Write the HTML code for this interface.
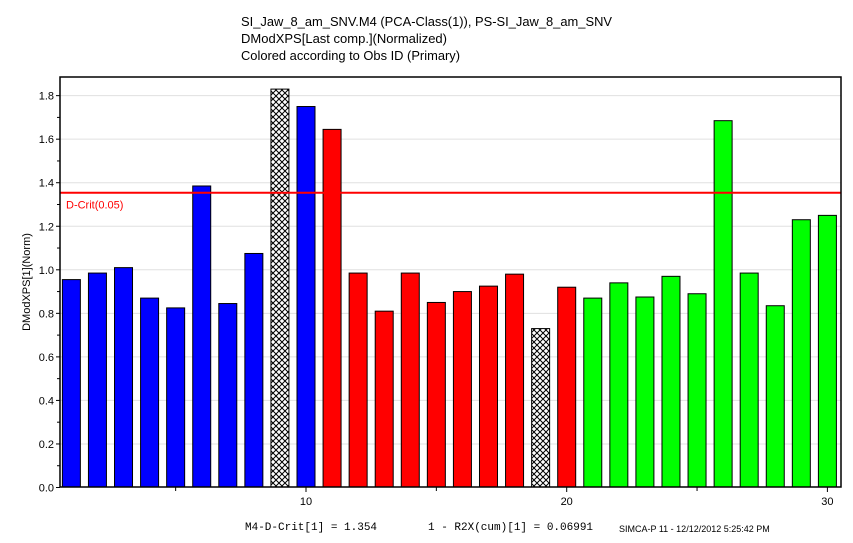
<!DOCTYPE html>
<html><head><meta charset="utf-8"><style>body{margin:0;background:#fff}svg{display:block;font-family:"Liberation Sans",sans-serif}</style></head>
<body>
<svg id="c" width="853" height="543" viewBox="0 0 853 543" xmlns="http://www.w3.org/2000/svg">
<defs><pattern id="hatch" width="6" height="6" patternUnits="userSpaceOnUse"><rect width="6" height="6" fill="#fff"/><path d="M0,0L6,6M6,0L0,6" stroke="#000" stroke-width="1"/></pattern></defs>
<text x="241" y="26" font-size="13" textLength="371" lengthAdjust="spacingAndGlyphs">SI_Jaw_8_am_SNV.M4 (PCA-Class(1)), PS-SI_Jaw_8_am_SNV</text>
<text x="241" y="43" font-size="13" textLength="206" lengthAdjust="spacingAndGlyphs">DModXPS[Last comp.](Normalized)</text>
<text x="241" y="60" font-size="13" textLength="219" lengthAdjust="spacingAndGlyphs">Colored according to Obs ID (Primary)</text>
<g id="grid"></g><g id="bars"></g><g id="axes"></g>
<text transform="translate(30,282) rotate(-90)" font-size="11" text-anchor="middle">DModXPS[1](Norm)</text>
<text x="245" y="530" font-family="Liberation Mono" font-size="11">M4-D-Crit[1] = 1.354</text>
<text x="428" y="530" font-family="Liberation Mono" font-size="11">1 - R2X(cum)[1] = 0.06991</text>
<text x="619" y="532" font-size="9">SIMCA-P 11 - 12/12/2012 5:25:42 PM</text>
</svg>
<script>
const obs=[1,2,3,4,5,6,7,8,9,10,11,12,13,14,15,16,17,18,19,20,21,22,23,24,25,26,27,28,29,30];
const values=[0.955,0.985,1.01,0.87,0.825,1.385,0.845,1.075,1.83,1.75,1.645,0.985,0.81,0.985,0.85,0.90,0.925,0.98,0.73,0.92,0.87,0.94,0.875,0.97,0.89,1.685,0.985,0.835,1.23,1.25];
const groups=["b","b","b","b","b","b","b","b","h","b","r","r","r","r","r","r","r","r","h","r","g","g","g","g","g","g","g","g","g","g"];
const yTicks=[0,0.2,0.4,0.6,0.8,1.0,1.2,1.4,1.6,1.8];
const xTicks=[10,20,30];
const dcrit=1.354;
const L=60,T=77,R=841,B=487;
const y=v=>487.5-v*217.7;
const x=i=>306+(i-10)*26.07;
const NS="http://www.w3.org/2000/svg";
function mk(p,t,a){const e=document.createElementNS(NS,t);for(const k in a)e.setAttribute(k,a[k]);p.appendChild(e);return e;}
const grid=document.getElementById('grid'),bars=document.getElementById('bars'),axes=document.getElementById('axes');
const fills={b:"#0000ff",r:"#ff0000",g:"#00ff00",h:"url(#hatch)"};
yTicks.forEach(v=>{if(v>0){const g=mk(grid,'line',{x1:L,x2:R,y1:y(v),y2:y(v),stroke:'#e0e0e0'});}
 const t=mk(axes,'text',{x:L-6,y:y(v)+4,'font-size':11,'text-anchor':'end'});t.textContent=v.toFixed(1);
 
 mk(axes,'line',{x1:L-4,x2:L,y1:y(v),y2:y(v),stroke:'#000'});
 if(v<1.8)mk(axes,'line',{x1:L-3,x2:L,y1:y(v+0.1),y2:y(v+0.1),stroke:'#000'});});
obs.forEach((o,i)=>{const r=mk(bars,'rect',{x:x(o)-9,y:y(values[i]),width:18,height:B-y(values[i]),fill:fills[groups[i]],stroke:'#000','stroke-width':1});
 });
const dl=mk(bars,'line',{x1:L,x2:R,y1:y(dcrit),y2:y(dcrit),stroke:'#ff0000','stroke-width':2});

const dt=mk(bars,'text',{x:L+6,y:y(dcrit)+16,'font-size':11,fill:'#ff0000'});dt.textContent='D-Crit(0.05)';

const fr=mk(axes,'rect',{x:L,y:T,width:R-L,height:B-T,fill:'none',stroke:'#000','stroke-width':1.5});

[5,15,25].forEach(v=>mk(axes,'line',{x1:x(v),x2:x(v),y1:B,y2:B+4,stroke:'#000'}));
xTicks.forEach(v=>{mk(axes,'line',{x1:x(v),x2:x(v),y1:B,y2:B+5,stroke:'#000'});
 const t=mk(axes,'text',{x:x(v),y:B+18,'font-size':11,'text-anchor':'middle'});t.textContent=v;
 });
</script>
</body></html>
